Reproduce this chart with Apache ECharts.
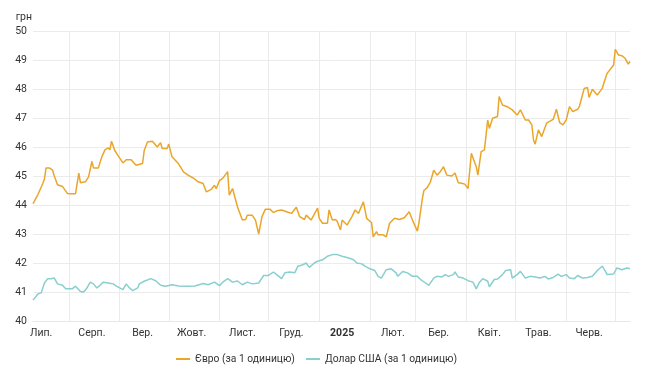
<!DOCTYPE html>
<html>
<head>
<meta charset="utf-8">
<script src="https://cdn.jsdelivr.net/npm/echarts@6/dist/echarts.min.js"></script>
<style>html,body{margin:0;padding:0;background:#fff}#c{width:650px;height:383px}</style>
</head>
<body>
<div id="c"></div>
<script>
// Axis: daily categories from 10 Jul 2024 to 10 Jul 2025
var startDate = [2024, 6, 10];
var dayCount = 366;
var monthLabels = ['Січ.', 'Лют.', 'Бер.', 'Квіт.', 'Трав.', 'Черв.', 'Лип.', 'Серп.', 'Вер.', 'Жовт.', 'Лист.', 'Груд.'];
var yTicks = [40, 41, 42, 43, 44, 45, 46, 47, 48, 49, 50];
var seriesNames = ['Євро (за 1 одиницю)', 'Долар США (за 1 одиницю)'];

// Euro: day index (from start) and rate
var eurDay = [0,1,3,4,6,7,8,10,12,13,15,18,21,23,26,28,29,32,34,36,37,40,42,44,46,47,48,50,52,53,55,57,60,63,67,68,70,73,76,78,79,82,83,85,87,89,92,95,98,101,104,106,109,111,112,114,116,119,120,122,123,125,128,130,131,134,136,137,138,140,142,145,147,149,152,155,158,161,163,166,167,170,174,175,177,180,181,183,185,186,188,189,192,195,197,199,202,204,207,208,210,211,214,216,218,221,224,227,230,232,235,236,238,239,241,243,245,247,249,251,253,256,258,260,262,264,266,268,269,271,272,274,276,278,279,281,284,285,287,290,293,296,298,301,303,305,306,307,309,311,312,314,315,318,320,322,324,326,328,330,333,334,337,339,340,342,345,348,349,351,352,355,356,358,360,362,364,365];
var eurRate = [44.05,44.1,44.36,44.4,44.74,44.9,45.28,45.28,45.2,45.0,44.7,44.64,44.4,44.39,44.39,45.1,44.77,44.8,44.97,45.5,45.28,45.28,45.65,45.9,45.97,45.9,46.2,45.88,45.7,45.66,45.45,45.56,45.56,45.37,45.43,45.88,46.17,46.2,46.0,46.15,45.95,45.95,46.1,45.66,45.54,45.42,45.14,45.02,44.93,44.8,44.74,44.45,44.54,44.68,44.56,44.84,44.92,45.15,44.34,44.57,44.52,43.94,43.48,43.5,43.65,43.65,43.48,43.45,43.0,43.6,43.85,43.85,43.74,43.8,43.83,43.77,43.71,43.92,43.6,43.5,43.65,43.48,43.89,43.54,43.37,43.37,43.83,43.48,43.5,43.43,43.14,43.48,43.31,43.6,43.83,43.71,44.11,43.54,43.39,42.9,43.08,42.97,42.97,42.9,43.37,43.54,43.5,43.56,43.77,43.48,43.1,43.4,44.2,44.5,44.6,44.8,45.2,45.03,45.15,45.32,45.03,45.0,45.1,44.77,44.75,44.72,44.57,45.78,45.84,45.32,45.03,45.84,45.9,46.93,46.64,46.99,47.05,47.74,47.45,47.39,47.28,47.1,47.28,46.93,46.93,46.76,46.24,46.1,46.59,46.36,46.41,46.82,46.87,46.95,47.3,46.84,46.76,46.93,47.39,47.22,47.3,47.39,48.02,48.05,47.71,47.99,47.79,48.02,48.2,48.54,48.6,48.83,49.37,49.17,49.15,49.06,48.86,48.95];

// US dollar: day index (from start) and rate
var usdDay = [0,1,3,5,7,9,11,13,15,18,20,21,24,26,29,31,33,35,37,39,41,43,46,49,51,53,55,57,59,61,64,65,68,72,75,78,81,85,89,94,99,104,107,111,114,116,119,122,125,128,131,134,138,141,144,147,149,152,154,157,160,162,165,167,169,172,174,177,180,183,186,189,193,196,198,201,203,206,209,211,213,216,219,222,223,226,227,229,232,235,237,240,242,243,245,247,250,252,254,257,258,260,263,266,269,271,273,275,278,279,282,284,287,289,292,293,296,298,301,304,307,310,313,315,318,321,323,326,328,331,333,336,339,342,345,348,350,351,355,357,360,363,365];
var usdRate = [40.72,40.77,40.93,40.97,41.31,41.46,41.46,41.48,41.28,41.23,41.11,41.05,41.11,41.2,41.02,41.0,41.14,41.34,41.28,41.14,41.23,41.34,41.31,41.28,41.2,41.14,41.08,41.28,41.14,41.05,41.14,41.28,41.37,41.46,41.39,41.23,41.2,41.25,41.21,41.2,41.21,41.29,41.25,41.34,41.22,41.34,41.46,41.34,41.38,41.25,41.34,41.28,41.31,41.57,41.57,41.69,41.6,41.46,41.66,41.69,41.66,41.89,41.94,42.0,41.85,42.0,42.06,42.11,42.23,42.29,42.29,42.23,42.17,42.11,42.0,41.97,41.89,41.8,41.74,41.54,41.48,41.77,41.8,41.66,41.54,41.71,41.74,41.66,41.54,41.54,41.43,41.31,41.23,41.2,41.48,41.54,41.52,41.6,41.54,41.6,41.69,41.52,41.48,41.39,41.34,41.11,41.34,41.46,41.37,41.18,41.43,41.45,41.6,41.74,41.77,41.48,41.6,41.71,41.48,41.54,41.52,41.48,41.54,41.45,41.5,41.62,41.54,41.6,41.48,41.46,41.57,41.48,41.5,41.54,41.74,41.89,41.71,41.6,41.62,41.83,41.77,41.83,41.8];

function pad(n){return n<10?'0'+n:''+n;}
var categories = [];
for (var i = 0; i < dayCount; i++) {
  var d = new Date(Date.UTC(startDate[0], startDate[1], startDate[2] + i));
  categories.push(d.getUTCFullYear() + '-' + pad(d.getUTCMonth() + 1) + '-' + pad(d.getUTCDate()));
}
function pairs(days, rates){ return days.map(function(dd, k){ return [categories[dd], rates[k]]; }); }
function dayOf(v){ return parseInt(v.slice(8, 10), 10); }

var FS = 10.5;
var chart = echarts.init(document.getElementById('c'), null, {renderer: 'canvas'});
chart.setOption({
  animation: false,
  textStyle: {fontFamily: 'Roboto, sans-serif'},
  grid: {left: 33, right: 20, top: 31, bottom: 62, containLabel: false},
  legend: {
    top: 349, left: 171, itemWidth: 14, itemHeight: 2, itemGap: 11, icon: 'rect',
    textStyle: {fontSize: 10.3, color: '#333', fontFamily: 'Roboto, sans-serif'},
    data: seriesNames
  },
  xAxis: {
    type: 'category', data: categories, boundaryGap: false,
    axisLine: {show: true, lineStyle: {color: '#e8e8e8'}},
    axisTick: {show: false},
    axisLabel: {
      interval: function(idx, v){ return dayOf(v) === 15; },
      color: '#333', fontSize: FS, margin: 7,
      formatter: function(v){
        var m = parseInt(v.slice(5, 7), 10) - 1;
        if (m === 0) return '{b|' + v.slice(0, 4) + '}';
        return monthLabels[m];
      },
      rich: {b: {fontWeight: 'bold', fontSize: FS, color: '#333', fontFamily: 'Roboto, sans-serif'}}
    },
    splitLine: {show: true, interval: function(idx, v){ return dayOf(v) === 1; }, lineStyle: {color: '#ebebeb'}}
  },
  yAxis: {
    type: 'value', min: yTicks[0], max: yTicks[yTicks.length - 1], interval: 1,
    name: 'грн', nameLocation: 'end', nameGap: 8,
    nameTextStyle: {align: 'right', color: '#333', fontSize: FS, padding: [0, 1, 0, 0]},
    axisLine: {show: false}, axisTick: {show: false},
    axisLabel: {color: '#333', fontSize: FS, margin: 6},
    splitLine: {lineStyle: {color: '#ebebeb'}}
  },
  series: [
    {name: seriesNames[0], type: 'line', symbol: 'none', data: pairs(eurDay, eurRate),
     lineStyle: {width: 1.5, color: '#eaa62a'}, itemStyle: {color: '#eaa62a'}},
    {name: seriesNames[1], type: 'line', symbol: 'none', data: pairs(usdDay, usdRate),
     lineStyle: {width: 1.5, color: '#88cfcf'}, itemStyle: {color: '#88cfcf'}}
  ]
});
</script>
</body>
</html>
